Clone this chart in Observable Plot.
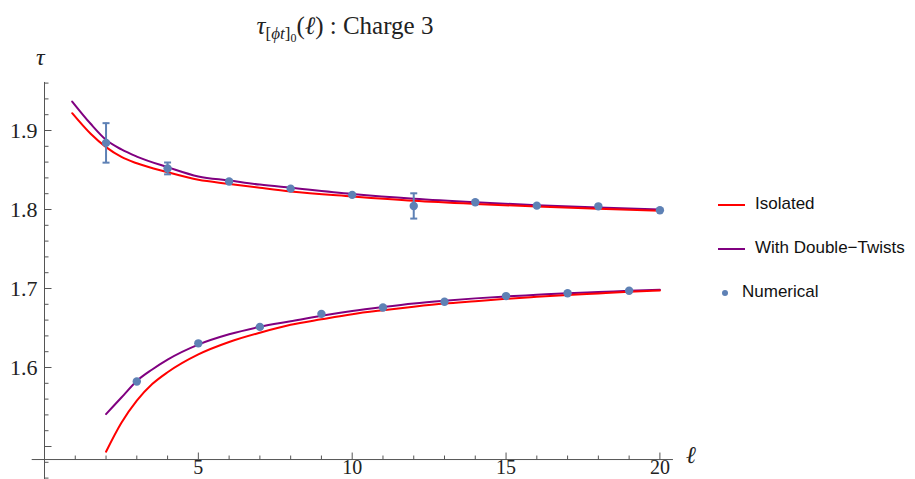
<!DOCTYPE html>
<html>
<head>
<meta charset="utf-8">
<script src="https://cdn.jsdelivr.net/npm/d3@7"></script>
<script src="https://cdn.jsdelivr.net/npm/@observablehq/plot@0.6"></script>
<style>
  html, body { margin: 0; padding: 0; background: #fff; }
  #wrap { position: relative; width: 915px; height: 479px; overflow: hidden; }
  #wrap svg { position: absolute; left: 0; top: 0; overflow: visible; }
  #wrap svg text { font-family: "Liberation Serif", "Times New Roman", serif !important; }
  .serif { font-family: "Liberation Serif", "Times New Roman", serif; color: #222; position: absolute; white-space: nowrap; }
  #title { left: 0; width: 690px; text-align: center; top: 12px; font-size: 25px; }
  #title sub { font-size: 17px; vertical-align: -5px; }
  #title sub sub { font-size: 12px; vertical-align: -3px; }
  #ylab { left: 36px; top: 44px; font-size: 24px; font-style: italic; }
  #xlab { left: 686px; top: 442px; font-size: 24px; font-style: italic; }
  #legend { position: absolute; left: 0; top: 0; font-family: "Liberation Sans", Arial, sans-serif; font-size: 17px; color: #111; }
  .lg { position: absolute; white-space: nowrap; }
  .sw { position: absolute; height: 2px; width: 27px; }
</style>
</head>
<body>
<div id="wrap">
  <div id="chart"></div>
  <div id="title" class="serif"><i>τ</i><sub>[<i>ϕt</i>]<sub>0</sub></sub>(<i>ℓ</i>) : Charge 3</div>
  <div id="ylab" class="serif">τ</div>
  <div id="xlab" class="serif">ℓ</div>
  <div id="legend"></div>
</div>
<script>
// ---- Data ----
const upperEll      = [0.9, 1.5, 2, 2.5, 3, 4, 5, 6, 7, 8, 10, 12, 14, 16, 18, 20];
const isolatedUpper = [1.9219, 1.8958, 1.8789, 1.8665, 1.8585, 1.8472, 1.8376, 1.8325, 1.8275, 1.8228, 1.8165, 1.811, 1.807, 1.8037, 1.801, 1.7985];
const twistsUpper   = [1.9367, 1.9085, 1.8882, 1.876, 1.867, 1.8536, 1.8418, 1.8367, 1.8315, 1.8275, 1.8197, 1.8137, 1.8092, 1.8055, 1.8025, 1.800];

const lowerEll      = [2, 2.5, 3, 3.5, 4, 5, 6, 7, 8, 9, 10, 11, 12, 13, 14, 15, 16, 17, 18, 19, 20];
const isolatedLower = [1.4934, 1.530, 1.558, 1.579, 1.594, 1.6166, 1.6323, 1.644, 1.654, 1.661, 1.6675, 1.6725, 1.677, 1.681, 1.684, 1.687, 1.6895, 1.6918, 1.6938, 1.6958, 1.6975];
const twistsLower   = [1.541, 1.562, 1.583, 1.5975, 1.610, 1.629, 1.642, 1.6515, 1.6585, 1.6655, 1.6715, 1.6765, 1.681, 1.6845, 1.6875, 1.690, 1.692, 1.694, 1.6955, 1.697, 1.6985];

const numUpperEll = [2, 4, 6, 8, 10, 12, 14, 16, 18, 20];
const numUpperTau = [1.8843, 1.852, 1.8354, 1.8264, 1.8185, 1.8045, 1.8092, 1.8049, 1.804, 1.799];
const numUpperErr = [0.025, 0.0075, 0, 0, 0, 0.016, 0, 0, 0, 0];
const numLowerEll = [3, 5, 7, 9, 11, 13, 15, 17, 19];
const numLowerTau = [1.5822, 1.6306, 1.6514, 1.6679, 1.676, 1.6832, 1.6904, 1.6939, 1.6972];

// ---- Axis tick definitions ----
const xMajorTicks = [5, 10, 15, 20];
const xMinorTicks = [1, 2, 3, 4, 6, 7, 8, 9, 11, 12, 13, 14, 16, 17, 18, 19];
const yMajorTicks = [1.5, 1.6, 1.7, 1.8, 1.9];
const yLabelTicks = [1.6, 1.7, 1.8, 1.9];
const yMinorTicks = [1.46, 1.48, 1.52, 1.54, 1.56, 1.58, 1.62, 1.64, 1.66, 1.68, 1.72, 1.74, 1.76, 1.78, 1.82, 1.84, 1.86, 1.88, 1.92, 1.94, 1.96];
const xAxisAt = 1.4835;              // tau value where the horizontal axis sits
const xAxisExtent = [-0.4, 20.44];
const yAxisExtent = [1.458, 1.9608];

const seriesNames = ["Isolated", "With Double\u2212Twists", "Numerical"];
const colors = { iso: "#ff0000", dt: "#800080", num: "#5e81b5" };
const axisColor = "#555";

// ---- Tables ----
const zip = (xs, ys, extra) => xs.map((x, i) => ({ x, y: ys[i], ...(extra ? extra(i) : {}) }));
const curves = [
  ...zip(lowerEll, twistsLower, () => ({ s: "dt-l" })),
  ...zip(upperEll, twistsUpper, () => ({ s: "dt-u" }))
];
const curvesIso = [
  ...zip(lowerEll, isolatedLower, () => ({ s: "iso-l" })),
  ...zip(upperEll, isolatedUpper, () => ({ s: "iso-u" }))
];
const numerical = [
  ...zip(numUpperEll, numUpperTau, i => ({ e: numUpperErr[i] })),
  ...zip(numLowerEll, numLowerTau, () => ({ e: 0 }))
];
const errs = numerical.filter(d => d.e > 0);

// custom tick / cap symbols (pixel-sized)
const tickUp = len => ({ draw(ctx) { ctx.moveTo(0, 0); ctx.lineTo(0, -len); } });
const tickRight = len => ({ draw(ctx) { ctx.moveTo(0, 0); ctx.lineTo(len, 0); } });
const cap = { draw(ctx) { ctx.moveTo(-3.5, 0); ctx.lineTo(3.5, 0); } };

const chart = Plot.plot({
  width: 915,
  height: 479,
  style: { fontFamily: "'Liberation Serif', 'Times New Roman', serif", background: "transparent" },
  x: { domain: [0, 20], range: [44, 659.4], axis: null },
  y: { domain: [1.6, 1.9], range: [367, 130], axis: null },
  marks: [
    // axes
    Plot.ruleY([xAxisAt], { x1: xAxisExtent[0], x2: xAxisExtent[1], stroke: axisColor, strokeWidth: 1 }),
    Plot.ruleX([0], { y1: yAxisExtent[0], y2: yAxisExtent[1], stroke: axisColor, strokeWidth: 1 }),
    Plot.dot(xMajorTicks, { x: d => d, y: () => xAxisAt, symbol: tickUp(7), stroke: axisColor, fill: "none", strokeWidth: 1 }),
    Plot.dot(xMinorTicks, { x: d => d, y: () => xAxisAt, symbol: tickUp(4), stroke: axisColor, fill: "none", strokeWidth: 1 }),
    Plot.dot(yMajorTicks, { x: () => 0, y: d => d, symbol: tickRight(7), stroke: axisColor, fill: "none", strokeWidth: 1 }),
    Plot.dot(yMinorTicks, { x: () => 0, y: d => d, symbol: tickRight(4), stroke: axisColor, fill: "none", strokeWidth: 1 }),
    Plot.text(xMajorTicks, { x: d => d, y: () => xAxisAt, text: d => String(d), lineAnchor: "top", dy: 0, fontSize: 20, fill: "#222" }),
    Plot.text(yLabelTicks, { x: () => 0, y: d => d, text: d => d.toFixed(1), textAnchor: "end", dx: -7, fontSize: 22, fill: "#222" }),
    // curves
    Plot.line(curves, { x: "x", y: "y", z: "s", stroke: colors.dt, strokeWidth: 2, curve: "monotone-x" }),
    Plot.line(curvesIso, { x: "x", y: "y", z: "s", stroke: colors.iso, strokeWidth: 2, curve: "monotone-x" }),
    // numerical with error bars
    Plot.ruleX(errs, { x: "x", y1: d => d.y - d.e, y2: d => d.y + d.e, stroke: colors.num, strokeWidth: 2 }),
    Plot.dot(errs, { x: "x", y: d => d.y - d.e, symbol: cap, stroke: colors.num, fill: "none", strokeWidth: 2 }),
    Plot.dot(errs, { x: "x", y: d => d.y + d.e, symbol: cap, stroke: colors.num, fill: "none", strokeWidth: 2 }),
    Plot.dot(numerical, { x: "x", y: "y", r: 4.2, fill: colors.num, stroke: "none" })
  ]
});
document.getElementById("chart").appendChild(chart);

// legend
const legend = document.getElementById("legend");
const items = [
  { name: seriesNames[0], kind: "line", color: colors.iso, top: 205 },
  { name: seriesNames[1], kind: "line", color: colors.dt, top: 249 },
  { name: seriesNames[2], kind: "dot", color: colors.num, top: 293 }
];
for (const it of items) {
  if (it.kind === "line") {
    const sw = document.createElement("div");
    sw.className = "sw";
    sw.style.left = "718px"; sw.style.top = (it.top - 1) + "px"; sw.style.background = it.color;
    legend.appendChild(sw);
  } else {
    const dt = document.createElement("div");
    dt.className = "sw";
    dt.style.left = "722px"; dt.style.top = (it.top - 3) + "px"; dt.style.width = "6px"; dt.style.height = "6px";
    dt.style.borderRadius = "50%"; dt.style.background = it.color;
    legend.appendChild(dt);
  }
  const t = document.createElement("div");
  t.className = "lg";
  t.textContent = it.name;
  t.style.left = (it.kind === "line" ? 755 : 742) + "px";
  t.style.top = (it.top - 11) + "px";
  legend.appendChild(t);
}
</script>
</body>
</html>
